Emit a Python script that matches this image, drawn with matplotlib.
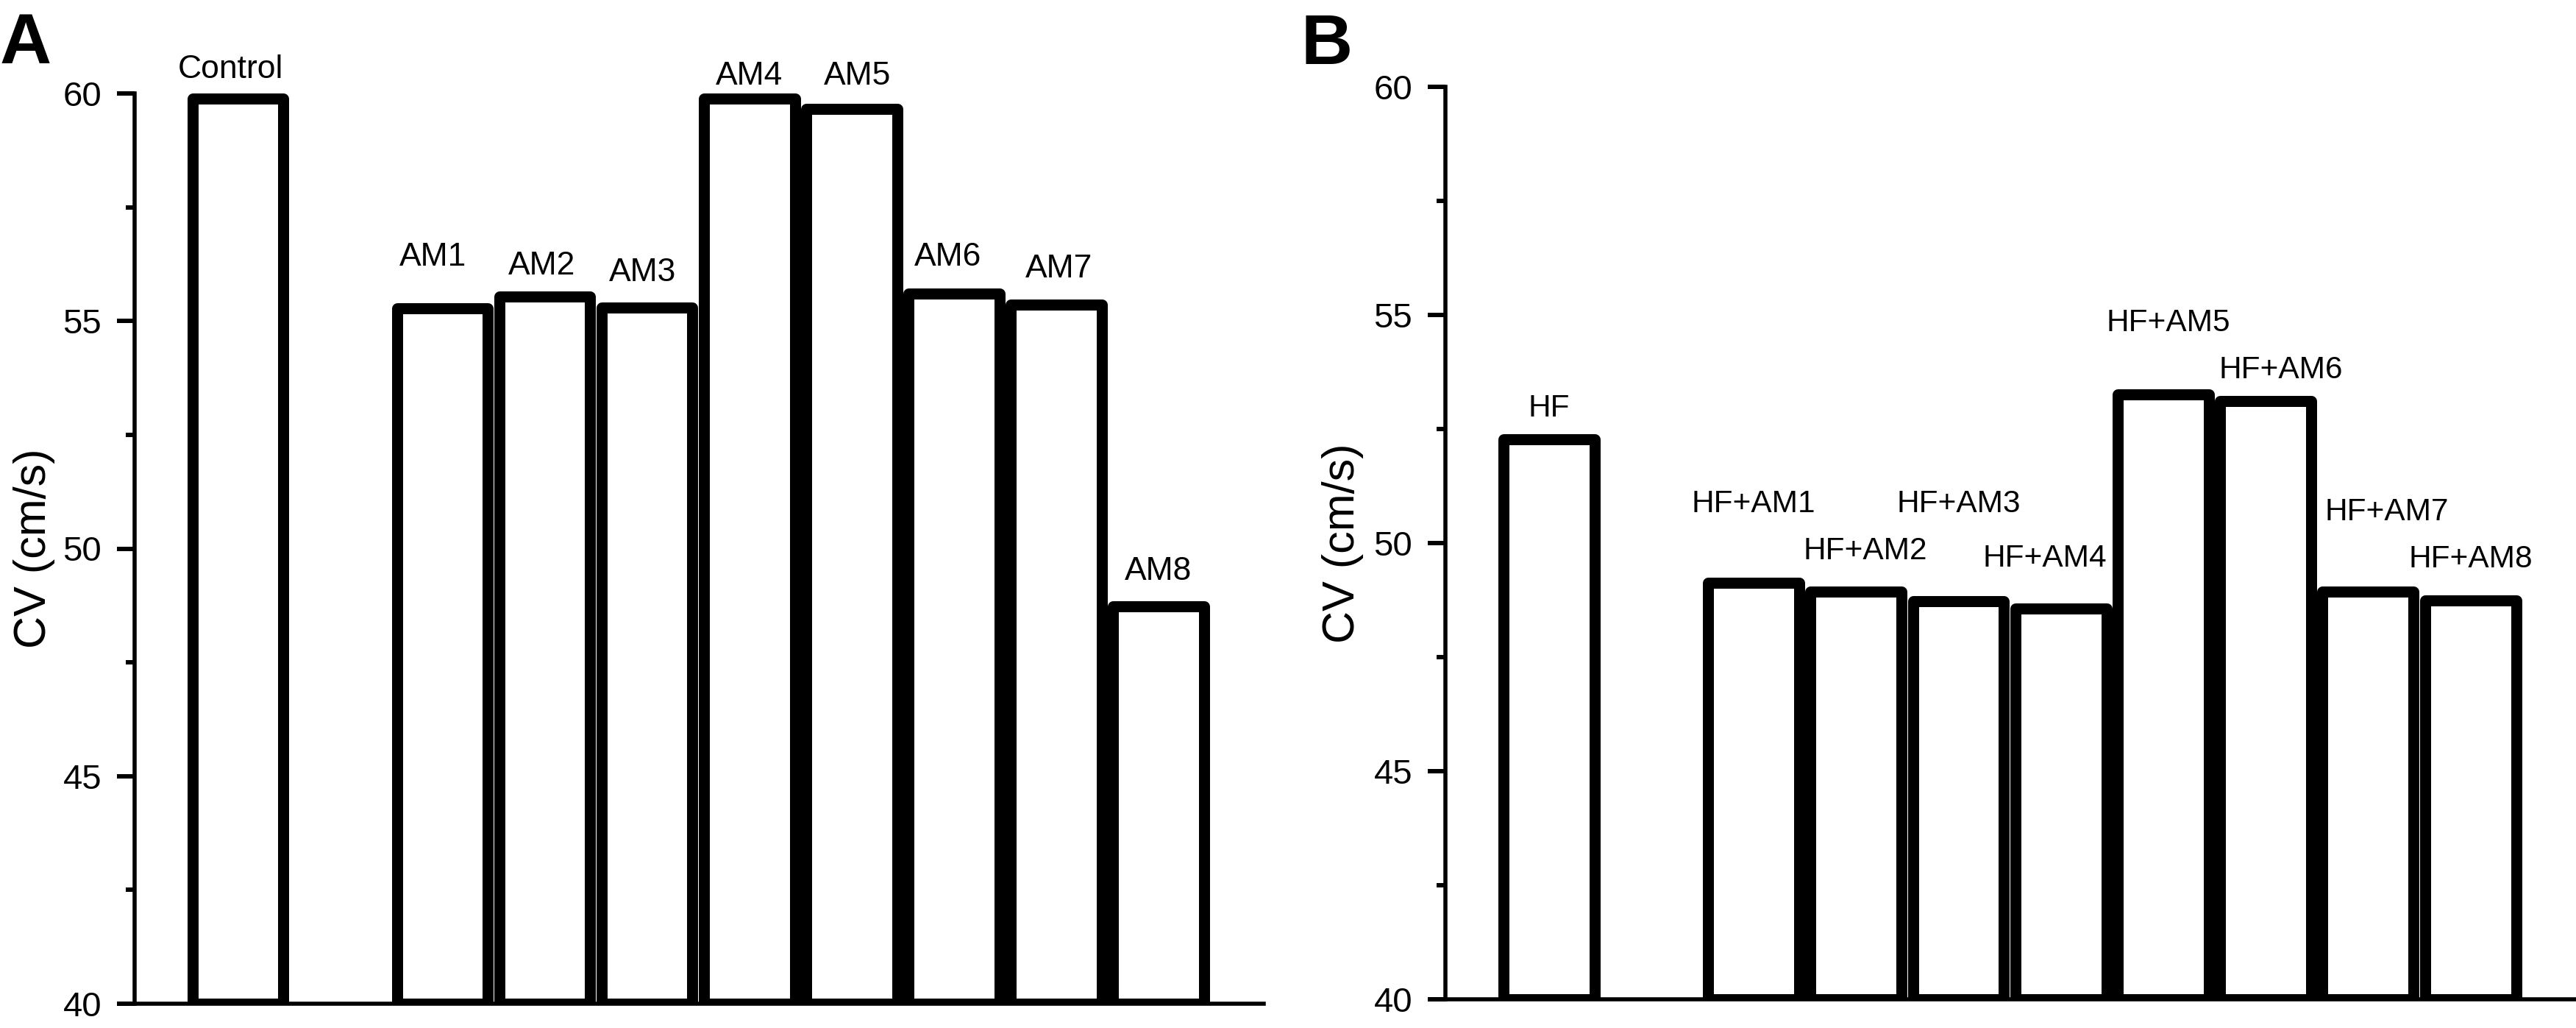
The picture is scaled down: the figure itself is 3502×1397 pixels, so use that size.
import matplotlib
matplotlib.use("Agg")
import matplotlib.pyplot as plt
from matplotlib.ticker import MultipleLocator

plt.rcParams['font.family'] = ['Liberation Sans', 'DejaVu Sans']

# panel A
labels_a = ["Control", "AM1", "AM2", "AM3", "AM4", "AM5", "AM6", "AM7", "AM8"]
pos_a = [0, 2, 3, 4, 5, 6, 7, 8, 9]
cv_a = [59.88, 55.28, 55.53, 55.29, 59.88, 59.66, 55.60, 55.36, 48.73]
# where the names sit (baseline, in data units) and small sideways shifts
label_y_a = [60.34, 56.21, 56.02, 55.87, 60.19, 60.19, 56.22, 55.95, 49.32]
label_dx_a = [-0.07, -0.09, -0.03, -0.04, 0.0, 0.06, -0.06, 0.03, 0.0]

# panel B
labels_b = ["HF", "HF+AM1", "HF+AM2", "HF+AM3", "HF+AM4",
            "HF+AM5", "HF+AM6", "HF+AM7", "HF+AM8"]
pos_b = [0, 2, 3, 4, 5, 6, 7, 8, 9]
cv_b = [52.27, 49.13, 48.94, 48.73, 48.57, 53.26, 53.11, 48.93, 48.74]
label_y_b = [52.78, 50.68, 49.64, 50.68, 49.48, 54.65, 53.61, 50.50, 49.47]
label_dx_b = [0.0, 0.0, 0.09, 0.0, -0.16, 0.05, 0.15, 0.18, 0.0]

W, H = 3502, 1397
DPI = 100


def draw_panel(ax, pos, vals, names, ly, ldx, name_size):
    bars = ax.bar(pos, [v - 40 for v in vals], bottom=40, width=0.89,
                  color='white', edgecolor='black', linewidth=10.8)
    for p in bars:
        p.set_joinstyle('round')
    for x, y, dx, name in zip(pos, ly, ldx, names):
        ax.text(x + dx, y, name, ha='center', va='baseline',
                fontsize=name_size, clip_on=False)

    ax.set_xlim(-1.01, 10.03)
    ax.set_ylim(40, 60)
    ax.yaxis.set_major_locator(MultipleLocator(5))
    ax.yaxis.set_minor_locator(MultipleLocator(2.5))
    ax.set_xticks([])
    ax.tick_params(axis='y', which='major', length=17.3, width=4.3,
                   labelsize=34, pad=15)
    ax.tick_params(axis='y', which='minor', length=8.6, width=4.3)
    for s in ['top', 'right']:
        ax.spines[s].set_visible(False)
    for s in ['left', 'bottom']:
        ax.spines[s].set_linewidth(4.0)
    ax.set_ylabel('CV (cm/s)', fontsize=44)


fig = plt.figure(figsize=(W / DPI, H / DPI), dpi=DPI)

ax_a = fig.add_axes([183 / W, 1 - 1364 / H, (1718 - 183) / W, (1364 - 127) / H])
draw_panel(ax_a, pos_a, cv_a, labels_a, label_y_a, label_dx_a, 32)
ax_a.yaxis.set_label_coords(-0.0704, 0.5)

ax_b = fig.add_axes([1965 / W, 1 - 1358 / H, (W - 1965) / W, (1358 - 118) / H])
draw_panel(ax_b, pos_b, cv_b, labels_b, label_y_b, label_dx_b, 30.5)
ax_b.yaxis.set_label_coords(-0.0722, 0.5)

fig.text(0.0, 1 - 86 / H, 'A', fontsize=70, fontweight='bold',
         ha='left', va='baseline')
fig.text(1768 / W, 1 - 87 / H, 'B', fontsize=70, fontweight='bold',
         ha='left', va='baseline')

fig.savefig('out.png', dpi=DPI, facecolor='white')
